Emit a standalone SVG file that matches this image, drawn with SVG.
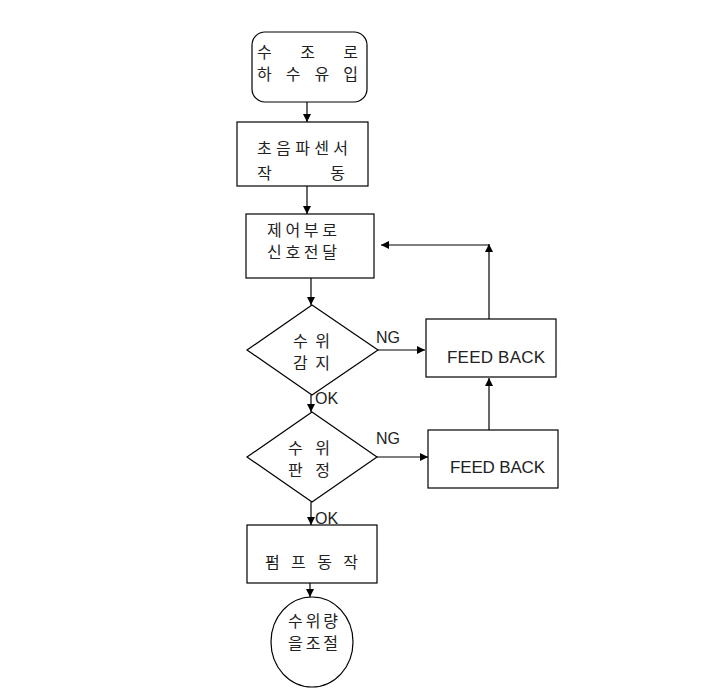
<svg xmlns="http://www.w3.org/2000/svg" width="702" height="695" viewBox="0 0 702 695">
<defs>
<marker id="ah" viewBox="0 0 10 10" refX="10" refY="5" markerWidth="8" markerHeight="8" markerUnits="userSpaceOnUse" orient="auto">
<path d="M0,0 L10,5 L0,10 z" fill="#000"/>
</marker>
</defs>
<style>
.s{fill:#fff;stroke:#000;stroke-width:1.2}
.k{font-family:"Noto Sans CJK KR","Noto Sans CJK SC",sans-serif;font-size:16px;fill:#222}
.e{font-family:"Liberation Sans",Arial,sans-serif;font-size:16px;fill:#222}
.f{font-family:"Liberation Sans",Arial,sans-serif;font-size:17px;fill:#222}
.c{fill:none;stroke:#000;stroke-width:1.2;marker-end:url(#ah)}
</style>
<rect width="702" height="695" fill="#fff"/>
<g id="start">
<rect class="s" x="252" y="32" width="115" height="70" rx="13"/>
<text class="k" x="257" y="58" textLength="101" lengthAdjust="spacing">수    조    로</text>
<text class="k" x="257" y="80" textLength="101" lengthAdjust="spacing">하 수 유 입</text>
</g>
<g id="sensor">
<rect class="s" x="237" y="122" width="131" height="64"/>
<text class="k" x="257" y="154" textLength="91" lengthAdjust="spacing">초음파센서</text>
<text class="k" x="257" y="179" textLength="88" lengthAdjust="spacing">작          동</text>
</g>
<g id="control">
<rect class="s" x="246" y="214" width="128" height="64"/>
<text class="k" x="267" y="236" textLength="70" lengthAdjust="spacing">제어부로</text>
<text class="k" x="267" y="258" textLength="70" lengthAdjust="spacing">신호전달</text>
</g>
<g id="detect">
<polygon class="s" points="312,305 378,350 312,395 247,350"/>
<text class="k" x="293" y="347" textLength="37" lengthAdjust="spacing">수 위</text>
<text class="k" x="293" y="369" textLength="37" lengthAdjust="spacing">감 지</text>
</g>
<g id="feedback1">
<rect class="s" x="426" y="319" width="130" height="58"/>
<text class="f" x="447" y="363" textLength="98" lengthAdjust="spacing">FEED BACK</text>
</g>
<g id="judge">
<polygon class="s" points="312,412 377,457 312,502 247,457"/>
<text class="k" x="288" y="454" textLength="42" lengthAdjust="spacing">수  위</text>
<text class="k" x="288" y="476" textLength="42" lengthAdjust="spacing">판  정</text>
</g>
<g id="feedback2">
<rect class="s" x="428" y="430" width="130" height="58"/>
<text class="f" x="450" y="473" textLength="95" lengthAdjust="spacing">FEED BACK</text>
</g>
<g id="pump">
<rect class="s" x="247" y="525" width="130" height="58"/>
<text class="k" x="265" y="568" textLength="93" lengthAdjust="spacing">펌 프 동 작</text>
</g>
<g id="end">
<ellipse class="s" cx="312" cy="642" rx="41" ry="45"/>
<text class="k" x="288" y="627" textLength="50" lengthAdjust="spacing">수위량</text>
<text class="k" x="288" y="649" textLength="50" lengthAdjust="spacing">을조절</text>
</g>
<g id="connectors">
<path class="c" d="M307,102 V122"/>
<path class="c" d="M307,186 V214"/>
<path class="c" d="M311,278 V305"/>
<path class="c" d="M311,395 V412"/>
<path class="c" d="M311,502 V525"/>
<path class="c" d="M310,583 V597"/>
<path class="c" d="M378,350 H425"/>
<path class="c" d="M377,457 H428"/>
<path class="c" d="M489,430 V378"/>
<path class="c" d="M489,319 V244"/>
<path class="c" d="M489,245 H381"/>
<text class="e" x="376" y="343">NG</text>
<text class="e" x="376" y="444">NG</text>
<text class="e" x="315" y="404">OK</text>
<text class="e" x="315" y="524">OK</text>
</g>
</svg>
